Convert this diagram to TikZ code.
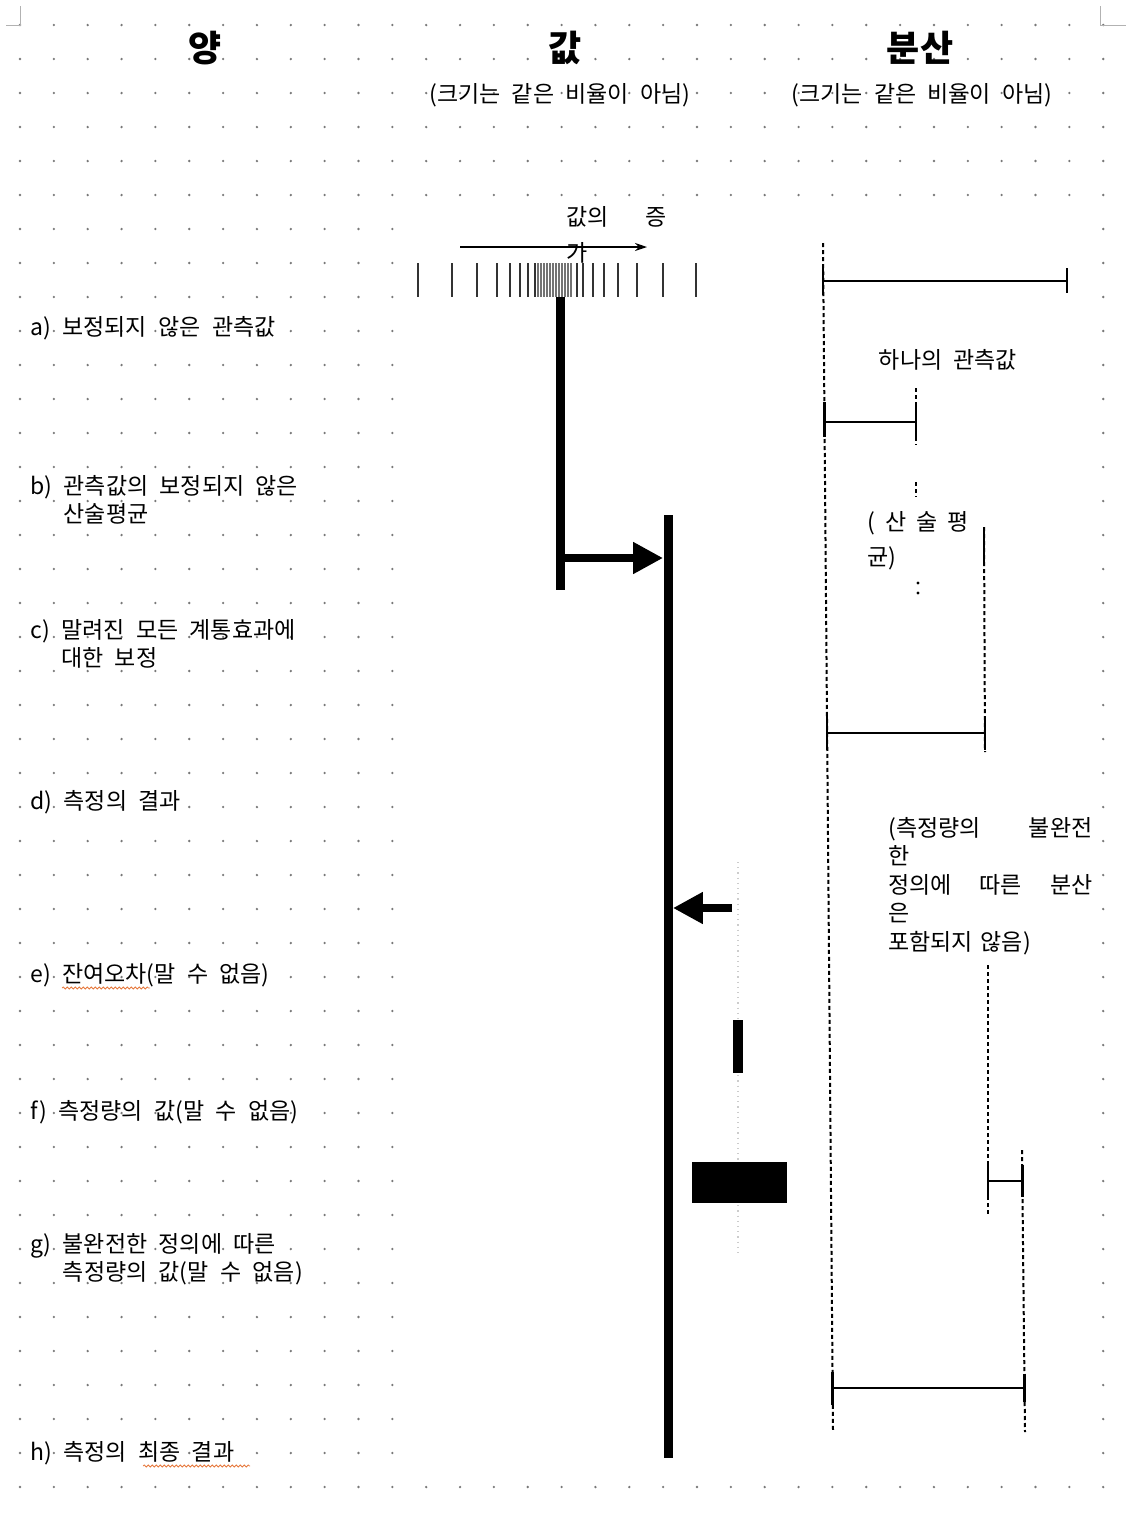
\documentclass[tikz,border=0pt]{standalone}
\usepackage{fontspec}
\setmainfont{Noto Sans CJK KR}[WordSpace=2.2]
\usepackage{xcolor}
\usetikzlibrary{arrows.meta, positioning, decorations.pathmorphing}
\definecolor{griddot}{RGB}{120,120,120}
\definecolor{spellred}{RGB}{230,120,60}

\begin{document}
\begin{tikzpicture}[x=0.5pt, y=-0.5pt,
    qty/.style={anchor=west, align=left, inner sep=0pt, font=\fontsize{11.5}{14}\selectfont},
    head/.style={inner sep=0pt, font=\fontsize{18}{20}\selectfont\bfseries},
    note/.style={inner sep=0pt, font=\fontsize{11.5}{14}\selectfont},
    valbar/.style={fill=black, inner sep=0pt, minimum width=4.5pt},
    fatarrow/.style={-{Triangle[length=15pt, width=15pt]}, line width=4pt},
    thinarrow/.style={-{Stealth[length=6pt, width=4pt]}, line width=0.9pt},
    tick/.style={line width=0.9pt, black!80},
    span/.style={line width=1pt},
    endcap/.style={line width=1.4pt},
    guide/.style={line width=1pt, dash pattern=on 2pt off 1.5pt},
    spell/.style={spellred, line width=0.4pt, decorate, decoration={snake, amplitude=0.5pt, segment length=2pt}}
]
\useasboundingbox (0,0) rectangle (1128,1522);

% Grid of dots
\foreach \i in {0,...,32}
  \foreach \j in {0,...,43}
    \fill[griddot] (20+33.85*\i, 25+34*\j) circle[radius=0.65pt];

% Page corner marks
\draw[gray!60, line width=0.5pt] (6,25) -- (20,25) -- (20,6);
\draw[gray!60, line width=0.5pt] (1100,6) -- (1100,25) -- (1126,25);

% Pasted figure area
\fill[white] (405,205) rectangle (1090,1478);

% Column heads
\node[head] (hQty) at (205,48) {양};
\node[head] (hVal) at (565,48) {값};
\node[head] (hVar) at (920,48) {분산};
\node[note] (sVal) at (560,95) {(크기는 같은 비율이 아님)};
\node[note] (sVar) at (922,95) {(크기는 같은 비율이 아님)};

% Quantities
\node[qty] (qa) at (30,328) {a) 보정되지 않은 관측값};
\node[qty] (qb) at (30,501) {b) 관측값의 보정되지 않은\\\phantom{b) }산술평균};
\node[qty] (qc) at (30,645) {c) 말려진 모든 계통효과에\\\phantom{c) }대한 보정};
\node[qty] (qd) at (30,802) {d) 측정의 결과};
\node[qty] (qe) at (30,975) {e) 잔여오차(말 수 없음)};
\node[qty] (qf) at (30,1112) {f) 측정량의 값(말 수 없음)};
\node[qty] (qg) at (30,1260) {g) 불완전한 정의에 따른\\\phantom{g) }측정량의 값(말 수 없음)};
\node[qty] (qh) at (30,1453) {h) 측정의 최종 결과};
\draw[spell] (62,988) -- (150,988);
\draw[spell] (143,1466) -- (250,1466);

% Observations
\foreach \t in {418,452,477,497,510,520,528,535,577,583,593,604,618,637,663,696}
  \draw[tick] (\t,263) -- (\t,297);
\foreach \t in {538,541,...,572}
  \draw[tick, black!55] (\t,263) -- (\t,297);
\coordinate (incFrom) at (460,247);
\coordinate (incTo) at (647,247);
\draw[thinarrow] (incFrom) -- (incTo);
\node[note, anchor=north west, text width=50pt, align=left, font=\fontsize{11.5}{18}\selectfont] (inc) at (566,206) {값의\hfill 증\\가};

% Values
\node[valbar, minimum height=146.5pt] (rawMean) at (560,443.5) {};
\node[valbar, minimum height=471.5pt] (result) at (668,986.5) {};
\coordinate (corrLevel) at (0,558);
\draw[fatarrow] (rawMean.east |- corrLevel) -- (result.west |- corrLevel);
\coordinate (resLevel) at (732,908);
\draw[fatarrow] (resLevel) -- (result.east |- resLevel);
\draw[gray!40, dotted, line width=0.6pt] (738,862) -- (738,1255);
\fill (733,1020) rectangle (743,1073);
\fill (692,1162) rectangle (787,1203);

% Variances
\draw[guide] (823,243) -- (833,1430);
% single observation
\draw[span] (823,281) -- (1067,281);
\draw[endcap] (823,266) -- (823,295);
\draw[endcap] (1067,268) -- (1067,293);
\node[note] (vObs) at (948,360) {하나의 관측값};
% arithmetic mean
\draw[span] (824.5,422) -- (916,422);
\draw[endcap] (824.5,402) -- (824.5,437);
\draw[guide] (916,388) -- (916,445);
\draw[endcap] (916,405) -- (916,440);
\draw[guide] (916,482) -- (916,497);
\fill (918,583) circle[radius=0.8pt] (918,593) circle[radius=0.8pt];
\node[note, anchor=north west, text width=50.5pt, align=left, font=\fontsize{11.5}{17.5}\selectfont] (vMean) at (867,511) {(\hfill 산\hfill 술\hfill 평\\균)};
% corrected
\draw[guide] (984,527) -- (985,752);
\draw[endcap] (984,527) -- (984,565);
\draw[span] (827,733) -- (985,733);
\draw[endcap] (827,715) -- (827,750);
\draw[endcap] (985,716) -- (985,750);
\node[note, anchor=north west, text width=102pt, align=left, font=\fontsize{11.5}{14.25}\selectfont] (vDef) at (888,817) {(측정량의\hfill 불완전\\한\\정의에\hfill 따른\hfill 분산\\은\\포함되지 않음)};
% incomplete definition
\draw[guide] (988,965) -- (988,1215);
\draw[guide] (1022,1150) -- (1025,1432);
\draw[span] (988,1181) -- (1022.5,1181);
\draw[endcap] (988,1165) -- (988,1197);
\draw[endcap] (1022.5,1165) -- (1022.5,1197);
% final result
\draw[span] (832.6,1388) -- (1024.5,1388);
\draw[endcap] (832.6,1372) -- (832.6,1405);
\draw[endcap] (1024.5,1374) -- (1024.5,1402);

\end{tikzpicture}
\end{document}
